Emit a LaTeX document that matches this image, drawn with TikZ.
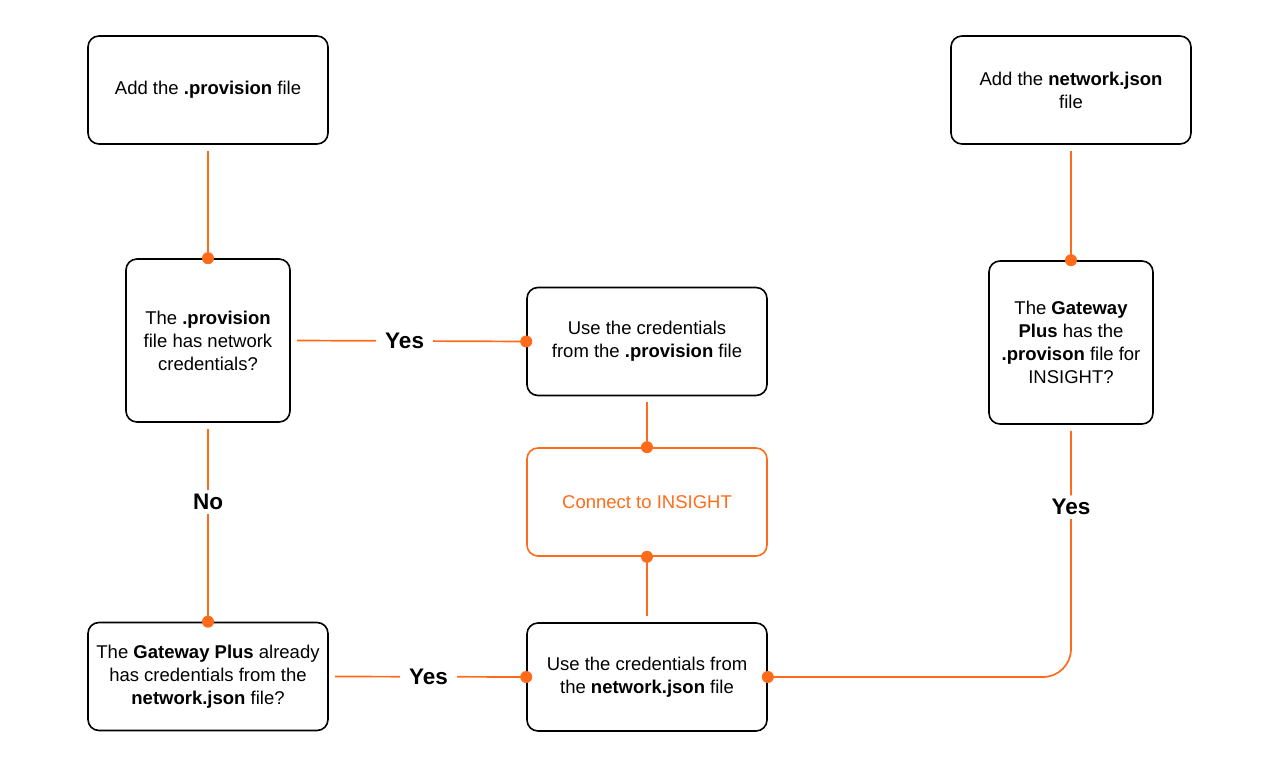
\documentclass[tikz,border=0pt]{standalone}
\usepackage{fontspec}
\setmainfont{Liberation Sans}
\usepackage{xcolor}
\usetikzlibrary{positioning}
\definecolor{brand}{RGB}{255,107,26}

\begin{document}
\begin{tikzpicture}[x=1pt,y=-1pt,
  every node/.style={font=\fontsize{18.5}{23}\selectfont},
  box/.style={draw,line width=1.6pt,rounded corners=11pt,align=center,inner sep=0pt},
  wide/.style={box,minimum width=240pt,minimum height=108pt},
  tall/.style={box,minimum width=164pt,minimum height=163pt},
  conn/.style={brand,line width=1.7pt},
  lbl/.style={fill=white,text=black,inner xsep=9pt,inner ysep=4pt,font=\fontsize{22.5}{24}\selectfont\bfseries}]
  \useasboundingbox (0,0) rectangle (1280,767);

  % left column
  \node[wide] (prov)  at (208,90)    {Add the \textbf{.provision} file};
  \node[tall] (provq) at (208,340.5) {The \textbf{.provision}\\file has network\\credentials?};
  \node[wide] (gwq)   at (208,676.5) {The \textbf{Gateway Plus} already\\has credentials from the\\\textbf{network.json} file?};

  % middle column
  \node[wide] (useprov) at (647,341.5) {Use the credentials\\from the \textbf{.provision} file};
  \node[wide,brand,text=brand] (connect) at (647,502) {Connect to INSIGHT};
  \node[wide] (usejson) at (647,677) {Use the credentials from\\the \textbf{network.json} file};

  % right column
  \node[wide] (json)   at (1071,90)    {Add the \textbf{network.json}\\file};
  \node[tall] (gwprov) at (1071,342.5) {The \textbf{Gateway}\\\textbf{Plus} has the\\\textbf{.provison} file for\\INSIGHT?};

  % connectors
  \draw[conn] ([yshift=-6pt]prov.south) -- (provq.north);
  \draw[conn] ([xshift=6pt]provq.east) -- node[lbl,pos=0.47]{Yes} (useprov.west);
  \draw[conn] ([yshift=-6pt]provq.south) -- node[lbl,pos=0.38]{No} (gwq.north);
  \draw[conn] ([yshift=-6pt]useprov.south) -- (connect.north);
  \draw[conn] ([yshift=6pt]usejson.north) -- (connect.south);
  \draw[conn] ([xshift=6pt]gwq.east) -- node[lbl,pos=0.49]{Yes} (usejson.west);
  \draw[conn] ([yshift=-6pt]json.south) -- (gwprov.north);
  \draw[conn,rounded corners=28pt] ([yshift=-6pt]gwprov.south)
        -- node[lbl,pos=0.31]{Yes} (gwprov.south |- usejson.east) -- (usejson.east);

  \foreach \p in {provq.north,useprov.west,gwq.north,connect.north,
                  connect.south,usejson.west,gwprov.north,usejson.east}
    \fill[brand] (\p) circle (6pt);
\end{tikzpicture}
\end{document}
